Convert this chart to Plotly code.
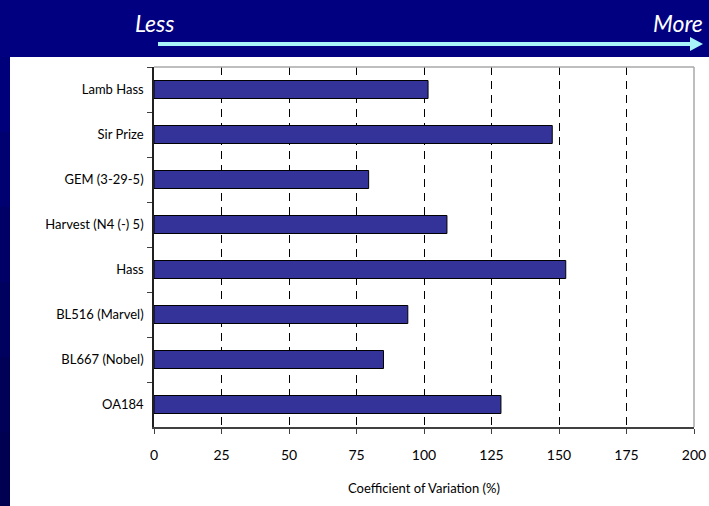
import plotly.graph_objects as go

varieties = ["Lamb Hass", "Sir Prize", "GEM (3-29-5)", "Harvest (N4 (-) 5)",
             "Hass", "BL516 (Marvel)", "BL667 (Nobel)", "OA184"]
cv_values = [101.5, 147.5, 79.5, 108.5, 152.5, 94.0, 85.0, 128.5]
x_ticks = [0, 25, 50, 75, 100, 125, 150, 175, 200]
x_title = "Coefficient of Variation (%)"
less_label = "Less"
more_label = "More"

FONT = "Lato"
W, H = 709, 506
L, R, T, B = 154, 15, 67, 79

fig = go.Figure(go.Bar(
    x=cv_values, y=varieties, orientation="h",
    marker=dict(color="#333399", line=dict(color="#000000", width=1)),
    hoverinfo="x+y",
))

def px(x):
    return (x - L) / (W - L - R)

def py(y):
    return (H - B - y) / (H - T - B)

shapes = []
shapes.append(dict(type="rect", xref="paper", yref="paper", layer="below",
                   x0=px(0), x1=px(W), y0=py(H), y1=py(0),
                   fillcolor="#000080", line=dict(width=0)))
strip_cols = ["#00007a", "#000070", "#000066", "#00005e", "#000056", "#000050"]
n = len(strip_cols)
for i, c in enumerate(strip_cols):
    y0 = 57 + (H - 57) * i / n
    y1 = 57 + (H - 57) * (i + 1) / n
    shapes.append(dict(type="rect", xref="paper", yref="paper", layer="below",
                       x0=px(0), x1=px(10), y0=py(y1), y1=py(y0),
                       fillcolor=c, line=dict(width=0)))
shapes.append(dict(type="rect", xref="paper", yref="paper", layer="below",
                   x0=px(10), x1=px(W), y0=py(H), y1=py(57),
                   fillcolor="#ffffff", line=dict(width=0)))
# top and right plot borders (light grey)
shapes.append(dict(type="line", xref="paper", yref="paper", layer="above",
                   x0=0, x1=1, y0=1, y1=1, line=dict(color="#a8a8a8", width=1.5)))
shapes.append(dict(type="line", xref="paper", yref="paper", layer="above",
                   x0=1, x1=1, y0=0, y1=1, line=dict(color="#a8a8a8", width=1.5)))
# arrow (shaft + head)
ARROW = "#a8f4f8"
shapes.append(dict(type="line", xref="paper", yref="paper", layer="above",
                   x0=px(158), x1=px(692), y0=py(44), y1=py(44),
                   line=dict(color=ARROW, width=4)))
shapes.append(dict(type="path", xref="paper", yref="paper", layer="above",
                   path=f"M {px(690)} {py(37)} L {px(703)} {py(44)} L {px(690)} {py(51)} Z",
                   fillcolor=ARROW, line=dict(color=ARROW, width=0)))

annotations = [
    dict(text=less_label, xref="paper", yref="paper", x=px(154), y=py(23),
         xanchor="center", yanchor="middle", showarrow=False,
         font=dict(family=FONT, size=23, color="#ffffff", style="italic")),
    dict(text=more_label, xref="paper", yref="paper", x=px(678), y=py(23),
         xanchor="center", yanchor="middle", showarrow=False,
         font=dict(family=FONT, size=23, color="#ffffff", style="italic")),
]

fig.update_layout(
    width=W, height=H,
    margin=dict(l=L, r=R, t=T, b=B, autoexpand=False),
    paper_bgcolor="#000080",
    plot_bgcolor="#ffffff",
    bargap=0.6,
    showlegend=False,
    shapes=shapes,
    annotations=annotations,
    font=dict(family=FONT, size=13, color="#000000"),
)
fig.update_xaxes(
    range=[0, 200], tickvals=x_ticks, ticktext=[str(v) for v in x_ticks],
    ticks="outside", ticklen=5, tickcolor="#404040",
    showgrid=True, gridcolor="#000000", gridwidth=1, griddash="8px,6px",
    showline=True, linecolor="#404040", linewidth=1.5,
    zeroline=False, automargin=False,
    tickfont=dict(family=FONT, size=14, color="#000000"),
    ticklabelstandoff=9,
    title=dict(text=x_title, standoff=22,
               font=dict(family=FONT, size=13, color="#000000")),
)
fig.update_yaxes(
    autorange="reversed", ticks="outside", ticklen=5, tickcolor="#404040",
    tickson="boundaries", showgrid=False, automargin=False,
    showline=True, linecolor="#202020", linewidth=1.5,
    tickfont=dict(family=FONT, size=13, color="#000000"),
    ticklabelstandoff=6,
)

fig.write_html("out.html")
